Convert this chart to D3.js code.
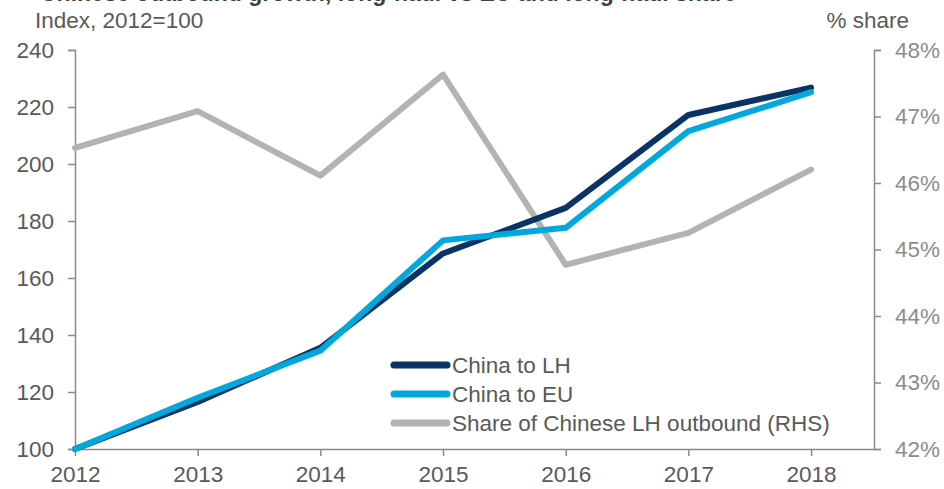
<!DOCTYPE html>
<html><head><meta charset="utf-8">
<script src="https://cdn.jsdelivr.net/npm/d3@7"></script>
<style>
body{margin:0;background:#fff;}
svg{display:block;font-family:"Liberation Sans",Arial,sans-serif;}
</style></head>
<body><svg id="c" width="944" height="489"></svg>
<script>
const years = [2012, 2013, 2014, 2015, 2016, 2017, 2018];
const chinaToLH = [100, 116.5, 135.5, 168.6, 184.6, 217.2, 226.8];
const chinaToEU = [100, 118, 134.5, 173.2, 177.6, 211.5, 225.2];
const shareLH = [46.53, 47.08, 46.11, 47.63, 44.77, 45.25, 46.2];
const leftTicks = [100, 120, 140, 160, 180, 200, 220, 240];
const rightTicks = [42, 43, 44, 45, 46, 47, 48];
const seriesNames = ["China to LH", "China to EU", "Share of Chinese LH outbound (RHS)"];
const colors = ["#0a3366", "#00a8de", "#b3b3b3"];

const svg = d3.select("#c");
const x = d3.scaleLinear().domain([2012, 2018.513]).range([75, 874]);
const yL = d3.scaleLinear().domain([100, 240]).range([449, 50]);
const yR = d3.scaleLinear().domain([42, 48]).range([449, 50]);
const axisColor = "#8a8a8a";
const fs = 22.5;

// title (cut off at top, as in the reference)
svg.append("text").attr("x", 40).attr("y", 1).attr("font-size", 23).attr("font-weight", "bold")
  .attr("fill", "#404040").text("Chinese outbound growth, long-haul vs EU and long-haul share");
svg.append("text").attr("x", 35).attr("y", 28).attr("font-size", fs).attr("fill", "#595959").text("Index, 2012=100");
svg.append("text").attr("x", 909).attr("y", 28).attr("font-size", fs).attr("fill", "#595959").attr("text-anchor", "end").text("% share");

function styleAxis(g, col) {
  g.select(".domain").attr("stroke", axisColor).attr("stroke-width", 1.5);
  g.selectAll(".tick line").attr("stroke", axisColor).attr("stroke-width", 1.5);
  g.selectAll(".tick text").attr("fill", col).attr("font-size", fs).attr("font-family", "Liberation Sans, Arial, sans-serif");
}

const gl = svg.append("g").attr("transform", "translate(75,0)")
  .call(d3.axisLeft(yL).tickValues(leftTicks).tickSize(7).tickPadding(14).tickSizeOuter(7));
styleAxis(gl, "#595959");

const gr = svg.append("g").attr("transform", "translate(874,0)")
  .call(d3.axisRight(yR).tickValues(rightTicks).tickFormat(d => d + "%").tickSize(7).tickPadding(14).tickSizeOuter(7));
styleAxis(gr, "#8c8c8c");

const gx = svg.append("g").attr("transform", "translate(0,449)")
  .call(d3.axisBottom(x).tickValues(years).tickFormat(d3.format("d")).tickSize(7).tickPadding(10).tickSizeOuter(0));
styleAxis(gx, "#595959");

const lineL = d3.line().x((d, i) => x(years[i])).y(d => yL(d));
const lineR = d3.line().x((d, i) => x(years[i])).y(d => yR(d));

svg.append("path").datum(shareLH).attr("d", lineR).attr("fill", "none").attr("stroke", colors[2]).attr("stroke-width", 6).attr("stroke-linejoin", "round").attr("stroke-linecap", "round");
svg.append("path").datum(chinaToLH).attr("d", lineL).attr("fill", "none").attr("stroke", colors[0]).attr("stroke-width", 6).attr("stroke-linejoin", "round").attr("stroke-linecap", "round");
svg.append("path").datum(chinaToEU).attr("d", lineL).attr("fill", "none").attr("stroke", colors[1]).attr("stroke-width", 6).attr("stroke-linejoin", "round").attr("stroke-linecap", "round");

// legend
const legY = [365, 394, 423];
seriesNames.forEach((n, i) => {
  svg.append("line").attr("x1", 394).attr("x2", 447).attr("y1", legY[i]).attr("y2", legY[i])
    .attr("stroke", colors[i]).attr("stroke-width", 7).attr("stroke-linecap", "round");
  svg.append("text").attr("x", 452).attr("y", legY[i] + 8).attr("font-size", fs).attr("fill", "#595959").text(n);
});
</script></body></html>
